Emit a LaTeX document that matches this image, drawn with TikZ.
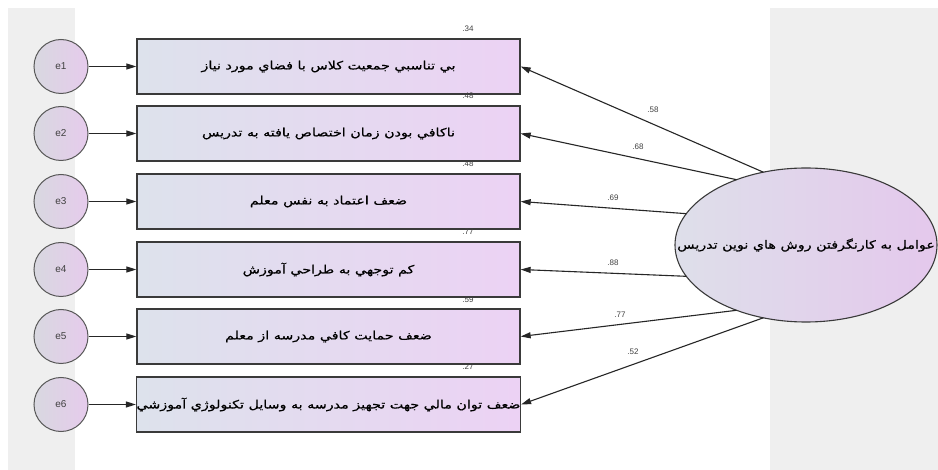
\documentclass[tikz,border=0pt]{standalone}
\usepackage{fontspec}
\setmainfont{Liberation Sans}
\newfontfamily\arabicfont[Script=Arabic,FakeStretch=1.24,FakeBold=0.6]{DejaVu Sans}
\TeXXeTstate=1
\usetikzlibrary{arrows.meta,shapes.geometric,calc}
\definecolor{bggray}{HTML}{EFEFEF}
\definecolor{boxL}{HTML}{DDE2EC}
\definecolor{boxR}{HTML}{ECD2F4}
\definecolor{cirL}{HTML}{D8D8E0}
\definecolor{cirR}{HTML}{E6CBEC}
\definecolor{ellL}{HTML}{DEDFEA}
\definecolor{ellR}{HTML}{E4C8EC}
\definecolor{edge}{HTML}{3A3A3A}
\definecolor{numtxt}{HTML}{404040}
\newcommand\artext[1]{{\arabicfont\beginR #1\endR}}
\begin{document}
\begin{tikzpicture}[x=1pt,y=-1pt,
  errc/.style={circle, draw=edge!85, line width=1pt, left color=cirL, right color=cirR,
    minimum size=54pt, inner sep=0pt, font=\fontsize{10}{11}\selectfont, text=numtxt},
  obsbox/.style={rectangle, draw=edge, line width=1.3pt, left color=boxL, right color=boxR,
    minimum width=383pt, minimum height=55pt, inner sep=0pt, font=\fontsize{11.5}{13}\selectfont},
  latent/.style={ellipse, draw=edge, line width=1.1pt, left color=ellL, right color=ellR,
    minimum width=262pt, minimum height=154pt, inner sep=0pt},
  arr/.style={-{Triangle[length=10pt,width=6pt]}, line width=1.1pt, draw=black!85},
  num/.style={font=\fontsize{8}{9}\selectfont, text=numtxt, inner sep=0pt}
]
\useasboundingbox (0,0) rectangle (938,470);
\fill[white] (0,0) rectangle (938,470);
\fill[bggray] (8,8) rectangle (75,470);
\fill[bggray] (770,8) rectangle (938,470);

% error terms
\node[errc] (e1) at (61,66.5) {e1};
\node[errc] (e2) at (61,133.5) {e2};
\node[errc] (e3) at (61,201.5) {e3};
\node[errc] (e4) at (61,269.5) {e4};
\node[errc] (e5) at (61,336.5) {e5};
\node[errc] (e6) at (61,404.5) {e6};

% observed variables
\node[obsbox] (b1) at (328.5,66.5) {\artext{بي تناسبي جمعيت كلاس با فضاي مورد نياز}};
\node[obsbox] (b2) at (328.5,133.5) {\artext{ناكافي بودن زمان اختصاص يافته به تدريس}};
\node[obsbox] (b3) at (328.5,201.5) {\artext{ضعف اعتماد به نفس معلم}};
\node[obsbox] (b4) at (328.5,269.5) {\artext{كم توجهي به طراحي آموزش}};
\node[obsbox] (b5) at (328.5,336.5) {\artext{ضعف حمايت كافي مدرسه از معلم}};
\node[obsbox] (b6) at (328.5,404.5) {\artext{ضعف توان مالي جهت تجهيز مدرسه به وسايل تكنولوژي آموزشي}};

% squared multiple correlations
\node[num] (r1) at (468,28.5) {.34};
\node[num] (r2) at (468,96.2) {.48};
\node[num] (r3) at (468,163.9) {.48};
\node[num] (r4) at (468,231.6) {.77};
\node[num] (r5) at (468,299.3) {.59};
\node[num] (r6) at (468,367) {.27};

% latent variable
\node[latent] (L) at (806,245) {};
\node[font=\fontsize{11.5}{13}\selectfont, inner sep=0pt] (Lt) at (L.center) {\artext{عوامل به كارنگرفتن روش هاي نوين تدريس}};

% points on the ellipse
\coordinate (p1) at ($(L.center)+(109:131pt and 77pt)$);
\coordinate (p2) at ($(L.center)+(122:131pt and 77pt)$);
\coordinate (p3) at ($(L.center)+(156:131pt and 77pt)$);
\coordinate (p4) at ($(L.center)+(204:131pt and 77pt)$);
\coordinate (p5) at ($(L.center)+(238:131pt and 77pt)$);
\coordinate (p6) at ($(L.center)+(251:131pt and 77pt)$);

% error arrows
\foreach \i in {1,...,6} {\draw[arr] (e\i) -- (b\i);}
% loadings
\foreach \i in {1,...,6} {\draw[arr] (p\i) -- (b\i.east);}

\node[num] (l1) at (653,110) {.58};
\node[num] (l2) at (638,147) {.68};
\node[num] (l3) at (613,198) {.69};
\node[num] (l4) at (613,263) {.88};
\node[num] (l5) at (620,315) {.77};
\node[num] (l6) at (633,352) {.52};
\end{tikzpicture}
\end{document}
